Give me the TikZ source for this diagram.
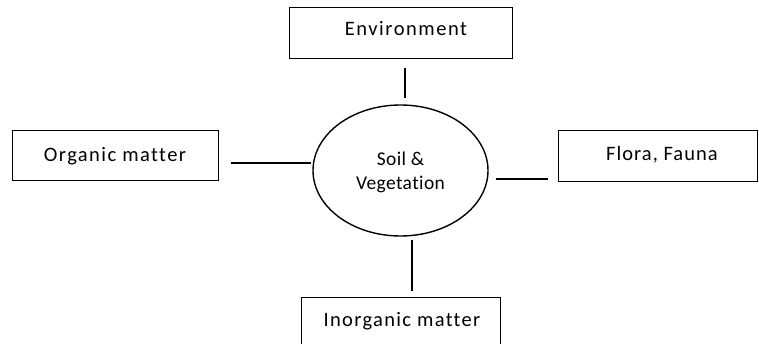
\documentclass[tikz,border=0pt]{standalone}
\usepackage{fontspec}
\setmainfont[Ligatures={NoCommon}]{Carlito}
\usetikzlibrary{shapes.geometric}
\tikzset{
  box/.style={draw=black, line width=1pt, rectangle, inner sep=0pt, text depth=0pt, font=\fontsize{20.5}{24}\selectfont},
  hub/.style={draw=black, line width=1.4pt, ellipse, inner sep=0pt, align=center, text depth=0pt, font=\fontsize{19.5}{23.6}\selectfont\addfontfeature{LetterSpace=2}},
  conn/.style={draw=black, line width=2pt}
}
\begin{document}
\begin{tikzpicture}[x=1pt,y=-1pt]
\useasboundingbox (0,0) rectangle (759,344);
\node[box, minimum width=223pt, minimum height=51pt, text height=4.4pt] (env) at (400.5,33.5) {\hspace*{11pt}\addfontfeature{LetterSpace=7.5}Environment};
\node[box, minimum width=206pt, minimum height=50pt, text height=11.4pt] (org) at (115,156) {\addfontfeature{LetterSpace=7}Organic matter};
\node[box, minimum width=199pt, minimum height=51pt, text height=8.4pt] (flora) at (657.5,156.5) {\hspace*{9pt}\addfontfeature{LetterSpace=5}Flora, Fauna};
\node[box, minimum width=199pt, minimum height=51pt, text height=8.4pt] (inorg) at (400.5,322.5) {\hspace*{3pt}\addfontfeature{LetterSpace=6.5}Inorganic matter};
\node[hub, minimum width=175pt, minimum height=131pt] (soil) at (400.5,170.5) {Soil \&\\Vegetation};
\draw[conn, shorten <=9pt, shorten >=6pt] ([xshift=4.5pt]env.south) -- ([xshift=4.5pt]env.south |- soil.north);
\draw[conn, shorten <=12pt, shorten >=1pt] ([yshift=-7pt]org.east) -- ([yshift=-7pt]org.east -| soil.west);
\draw[conn, shorten <=7pt, shorten >=10pt] ([yshift=-8.5pt]soil.east) -- ([yshift=-8.5pt]soil.east -| flora.west);
\draw[conn, shorten <=3pt, shorten >=6pt] ([xshift=11.5pt]soil.south) -- ([xshift=11.5pt]soil.south |- inorg.north);
\end{tikzpicture}
\end{document}
